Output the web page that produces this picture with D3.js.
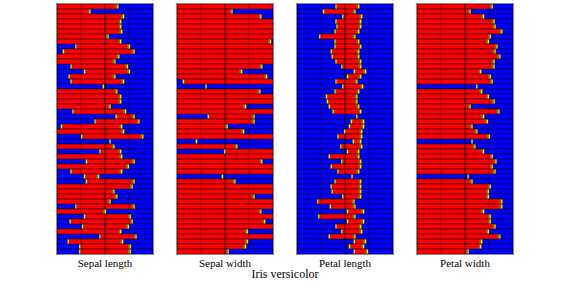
<!DOCTYPE html>
<html>
<head>
<meta charset="utf-8">
<script src="https://cdn.jsdelivr.net/npm/d3@7"></script>
<style>
  body { margin: 0; background: #fff; }
  text { font-family: "Liberation Serif", "DejaVu Serif", serif; fill: #000; }
</style>
</head>
<body>
<div id="chart"></div>
<script>
// Iris versicolor - one row per sample, red = share of the row, blue = rest
const features = ["Sepal length", "Sepal width", "Petal length", "Petal width"];
const title = "Iris versicolor";

// start / end of the red part of each row (fraction of the panel width)
const sepalLengthStart = [0,0,0,0,0,0,0,0,0.2,0.07,0,0,0.15,0.29,0.13,0.15,0.48,0,0,0,0,0.17,0.62,0.4,0.05,0,0.26,0.55,0,0.45,0,0.31,0,0.15,0.29,0.31,0,0,0,0,0.2,0,0.29,0.14,0.27,0,0.45,0.12,0.24,0.24];
const sepalLengthEnd = [0.63,0.34,0.69,0.66,0.66,0.67,0.53,0.66,0.75,0.8,0.64,0.6,0.73,0.75,0.6,0.69,0.48,0.62,0.66,0.66,0.55,0.71,0.8,0.85,0.67,0.69,0.89,0.55,0.59,0.66,0.67,0.8,0.74,0.67,0.43,0.8,0.78,0.59,0.62,0.55,0.8,0.5,0.76,0.78,0.74,0.66,0.82,0.68,0.76,0.76];

const sepalWidthStart = [0,0,0,0,0,0,0,0,0,0,0,0,0,0,0,0.07,0.3,0,0,0,0,0,0.33,0,0,0,0,0.2,0,0.5,0,0,0,0,0.47,0,0,0,0,0,0,0,0,0,0,0,0,0,0,0];
const sepalWidthEnd = [1,0.57,0.87,1,1,1,1,0.97,1,1,1,1,0.88,0.67,0.93,1,0.3,0.86,1,1,0.71,1,0.8,0.8,0.52,0.69,1,0.2,0.62,1,1,0.88,1,1,0.47,0.6,1,1,0.8,1,1,0.87,1,0.91,1,0.73,1,0.73,0.71,0.53];

const petalLengthStart = [0.41,0.28,0.48,0.41,0.42,0.4,0.24,0.4,0.4,0.36,0.37,0.41,0.47,0.6,0.53,0.41,0.48,0.4,0.31,0.32,0.34,0.38,0.62,0.57,0.55,0.5,0.43,0.59,0.46,0.53,0.34,0.47,0.36,0.43,0.57,0.4,0.36,0.37,0.48,0.22,0.35,0.53,0.23,0.53,0.41,0.47,0.34,0.6,0.55,0.6];
const petalLengthEnd = [0.64,0.6,0.67,0.66,0.66,0.64,0.6,0.64,0.66,0.64,0.64,0.66,0.66,0.71,0.66,0.62,0.68,0.64,0.62,0.62,0.64,0.66,0.62,0.69,0.69,0.67,0.67,0.66,0.67,0.64,0.64,0.66,0.66,0.64,0.57,0.66,0.66,0.66,0.66,0.59,0.6,0.69,0.6,0.69,0.66,0.67,0.6,0.71,0.69,0.73];

const petalWidthStart = [0,0,0,0,0,0,0,0,0,0,0,0,0,0,0,0,0.62,0,0,0,0,0,0,0,0,0,0,0.57,0,0,0,0,0,0,0.53,0,0,0,0,0,0,0,0,0,0,0,0,0,0,0];
const petalWidthEnd = [0.78,0.55,0.69,0.8,0.81,0.88,0.76,0.74,0.83,0.81,0.86,0.8,0.8,0.66,0.76,0.78,0.62,0.67,0.74,0.8,0.55,0.85,0.69,0.73,0.57,0.62,0.75,0.57,0.6,0.69,0.78,0.82,0.78,0.81,0.53,0.57,0.76,0.74,0.74,0.88,0.88,0.69,0.76,0.76,0.81,0.74,0.86,0.67,0.66,0.53];

const gridTicks = [0.25, 0.5, 0.75];

const panels = [
  { name: features[0], start: sepalLengthStart, end: sepalLengthEnd },
  { name: features[1], start: sepalWidthStart, end: sepalWidthEnd },
  { name: features[2], start: petalLengthStart, end: petalLengthEnd },
  { name: features[3], start: petalWidthStart, end: petalWidthEnd }
];

const width = 568, height = 283;
const plotTop = 4, plotBottom = 254;

const svg = d3.select("#chart").append("svg")
  .attr("width", width)
  .attr("height", height);

const px = d3.scaleBand()
  .domain(features)
  .range([57, 513])
  .paddingInner(0.2);

const rows = d3.range(sepalLengthEnd.length);
const y = d3.scaleBand().domain(rows).range([plotTop, plotBottom]);

const x = d3.scaleLinear().domain([0, 1]).range([0, px.bandwidth()]);

const yellowW = 1.4;

panels.forEach((p) => {
  const g = svg.append("g").attr("transform", `translate(${px(p.name)},0)`);

  // blue background of every row
  g.selectAll("rect.blue")
    .data(rows)
    .join("rect")
    .attr("class", "blue")
    .attr("x", x(0))
    .attr("y", (i) => y(i))
    .attr("width", x(1) - x(0))
    .attr("height", y.bandwidth())
    .attr("fill", "#0000ff")
    .attr("stroke", "#000")
    .attr("stroke-width", 0.5);

  // red part
  g.selectAll("rect.red")
    .data(rows.filter((i) => p.end[i] > p.start[i]))
    .join("rect")
    .attr("class", "red")
    .attr("x", (i) => x(p.start[i]))
    .attr("y", (i) => y(i))
    .attr("width", (i) => x(p.end[i]) - x(p.start[i]))
    .attr("height", y.bandwidth())
    .attr("fill", "#ff0000")
    .attr("stroke", "#000")
    .attr("stroke-width", 0.5);

  // quarter lines (segment edges)
  g.selectAll("line.grid")
    .data(gridTicks)
    .join("line")
    .attr("class", "grid")
    .attr("x1", (d) => x(d))
    .attr("x2", (d) => x(d))
    .attr("y1", plotTop)
    .attr("y2", plotBottom)
    .attr("stroke", "#000")
    .attr("stroke-width", (d) => (d === 0.5 ? 0.9 : 0.6))
    .attr("stroke-opacity", (d) => (d === 0.5 ? 0.85 : 0.5));

  // boundaries between red and blue
  const edges = [];
  rows.forEach((i) => {
    if (p.end[i] < 1) edges.push({ i, v: p.end[i], side: 1 });
    if (p.start[i] > 0 && p.start[i] < p.end[i]) edges.push({ i, v: p.start[i], side: -1 });
  });

  // dark shading just before the right boundary
  g.selectAll("rect.olive")
    .data(edges.filter((e) => e.side === 1 && p.end[e.i] > p.start[e.i]))
    .join("rect")
    .attr("class", "olive")
    .attr("x", (e) => x(e.v) - 2)
    .attr("y", (e) => y(e.i) + 0.5)
    .attr("width", 1.6)
    .attr("height", y.bandwidth() - 1)
    .attr("fill", "#8a6a00");

  // thin yellow boundary marks
  g.selectAll("rect.yellow")
    .data(edges)
    .join("rect")
    .attr("class", "yellow")
    .attr("x", (e) => x(e.v) - (e.side === 1 ? 0.4 : yellowW - 0.4))
    .attr("y", (e) => y(e.i) + 0.5)
    .attr("width", yellowW)
    .attr("height", y.bandwidth() - 1)
    .attr("fill", "#ffff00")
    .attr("stroke", "#6b6b00")
    .attr("stroke-width", 0.3);

  // frame
  g.append("rect")
    .attr("x", x(0) - 0.5)
    .attr("y", plotTop - 0.5)
    .attr("width", x(1) - x(0) + 1)
    .attr("height", plotBottom - plotTop + 1)
    .attr("fill", "none")
    .attr("stroke", "#8c8c8c")
    .attr("stroke-width", 1);

  g.append("text")
    .attr("x", x(0.5))
    .attr("y", 267)
    .attr("text-anchor", "middle")
    .attr("font-size", "11px")
    .text(p.name);
});

svg.append("text")
  .attr("x", 285)
  .attr("y", 278)
  .attr("text-anchor", "middle")
  .attr("font-size", "12px")
  .text(title);
</script>
</body>
</html>
